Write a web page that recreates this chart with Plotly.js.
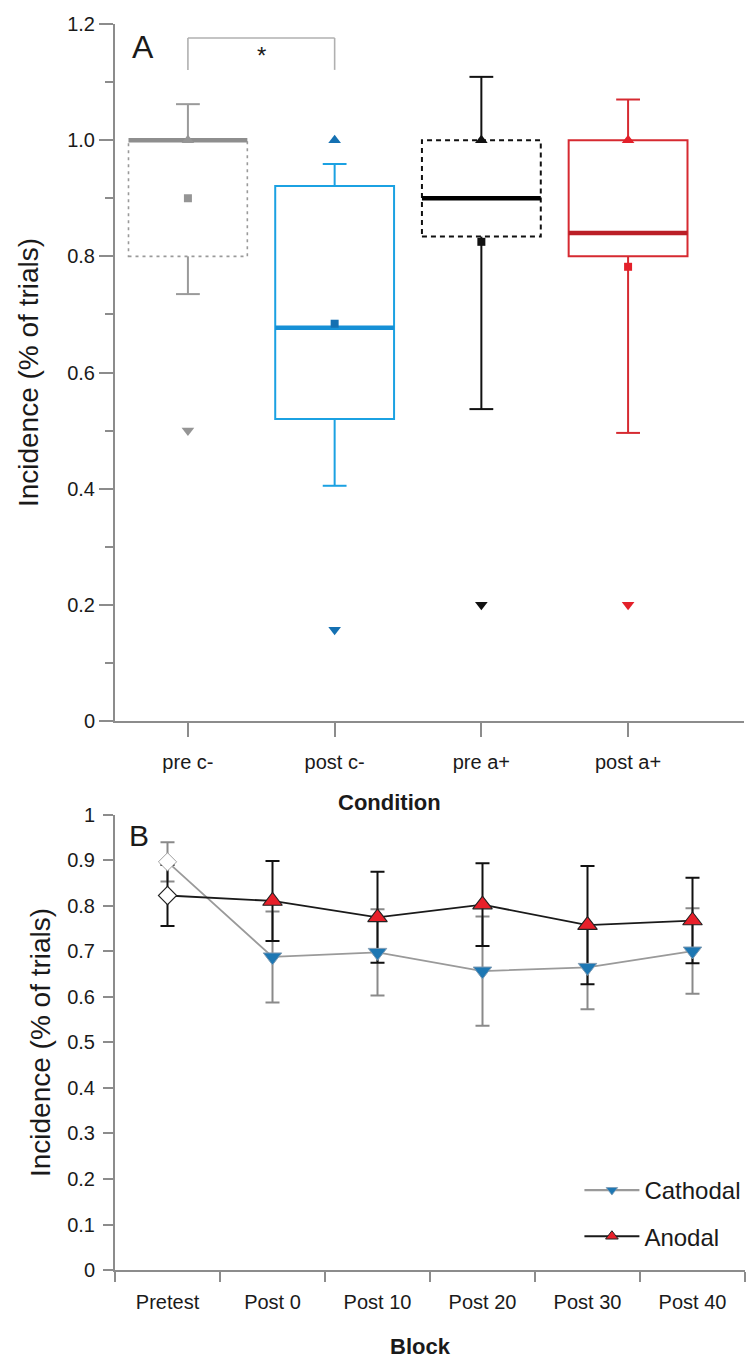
<!DOCTYPE html>
<html>
<head>
<meta charset="utf-8">
<script src="https://cdn.plot.ly/plotly-3.0.1.min.js"></script>
<style>html,body{margin:0;padding:0;background:#fff;}</style>
</head>
<body>
<div id="chart" style="width:752px;height:1359px;"></div>
<script>
// ---------- Panel A data ----------
const conditions = ['pre c-', 'post c-', 'pre a+', 'post a+'];
const q1Vals = [0.80, 0.52, 0.834, 0.80];
const medianVals = [1.00, 0.677, 0.90, 0.84];
const q3Vals = [1.00, 0.921, 1.00, 1.00];
const whiskerLow = [0.735, 0.405, 0.537, 0.496];
const whiskerHigh = [1.062, 0.959, 1.109, 1.070];
const meanVals = [0.90, 0.684, 0.825, 0.782];
const maxVals = [1.00, 1.00, 1.00, 1.00];
const minVals = [0.50, 0.157, 0.20, 0.20];
const yTickValsA = [0, 0.2, 0.4, 0.6, 0.8, 1.0, 1.2];
const yTickTextA = ['0', '0.2', '0.4', '0.6', '0.8', '1.0', '1.2'];
const sigPair = [0, 1];       // pre c- vs post c-
const sigLabel = '*';

// ---------- Panel B data ----------
const blocks = ['Pretest', 'Post 0', 'Post 10', 'Post 20', 'Post 30', 'Post 40'];
const cathodal = [0.897, 0.688, 0.698, 0.657, 0.665, 0.701];
const cathodalErr = [0.043, 0.100, 0.095, 0.120, 0.092, 0.094];
const anodal = [0.823, 0.811, 0.775, 0.803, 0.758, 0.768];
const anodalErr = [0.067, 0.088, 0.100, 0.091, 0.130, 0.094];

// ---------- styles ----------
const FONT = '"Liberation Sans", Arial, Helvetica, sans-serif';
const AXIS = '#8c8c8c';
const TXT = '#1a1a1a';
const condStyle = [
  {line: '#9a9a9a', median: '#8e8e8e', mark: '#959595', dash: '3px,4px', bw: 1.6},
  {line: '#1ba1e2', median: '#1690d6', mark: '#1470b2', dash: 'solid', bw: 2},
  {line: '#111111', median: '#000000', mark: '#111111', dash: '5px,4px', bw: 2},
  {line: '#d62a31', median: '#bb1f27', mark: '#e3202a', dash: 'solid', bw: 2}
];
const halfBox = 0.405;

const traces = [];
const shapes = [];

conditions.forEach((c, i) => {
  const s = condStyle[i];
  shapes.push({type: 'rect', xref: 'x', yref: 'y', layer: 'below',
    x0: i - halfBox, x1: i + halfBox, y0: q1Vals[i], y1: q3Vals[i],
    line: {color: s.line, width: s.bw, dash: s.dash}, fillcolor: 'rgba(0,0,0,0)'});
  shapes.push({type: 'line', xref: 'x', yref: 'y', layer: 'below',
    x0: i - halfBox, x1: i + halfBox, y0: medianVals[i], y1: medianVals[i],
    line: {color: s.median, width: 4.5}});
  traces.push({type: 'scatter', mode: 'lines', xaxis: 'x', yaxis: 'y',
    x: [c, c, null, c, c], y: [q3Vals[i], whiskerHigh[i], null, q1Vals[i], whiskerLow[i]],
    line: {color: s.line, width: 2}, showlegend: false, hoverinfo: 'skip'});
  traces.push({type: 'scatter', mode: 'markers', xaxis: 'x', yaxis: 'y',
    x: [c, c], y: [whiskerHigh[i], whiskerLow[i]],
    marker: {symbol: 'line-ew', size: 17, opacity: 1, color: s.line, line: {color: s.line, width: 2}},
    showlegend: false, hoverinfo: 'skip'});
  traces.push({type: 'scatter', mode: 'markers', xaxis: 'x', yaxis: 'y',
    x: [c, c, c], y: [meanVals[i], maxVals[i], minVals[i]],
    marker: {symbol: ['square', 'triangle-up', 'triangle-down'], size: [8, 11, 11], opacity: 1, color: s.mark, line: {width: 0}},
    showlegend: false, hoverinfo: 'skip'});
});

shapes.push({type: 'line', xref: 'x', yref: 'y', x0: sigPair[0], x1: sigPair[0], y0: 1.121, y1: 1.176, line: {color: '#b0b0b0', width: 1.6}});
shapes.push({type: 'line', xref: 'x', yref: 'y', x0: sigPair[0], x1: sigPair[1], y0: 1.176, y1: 1.176, line: {color: '#b0b0b0', width: 1.6}});
shapes.push({type: 'line', xref: 'x', yref: 'y', x0: sigPair[1], x1: sigPair[1], y0: 1.121, y1: 1.176, line: {color: '#b0b0b0', width: 1.6}});

// ---------- Panel B traces ----------
traces.push({type: 'scatter', mode: 'markers', xaxis: 'x2', yaxis: 'y2',
  x: blocks, y: cathodal, marker: {size: 1, color: 'rgba(0,0,0,0)'},
  error_y: {type: 'data', array: cathodalErr, visible: true, color: '#8a8a8a', thickness: 2, width: 7},
  showlegend: false, hoverinfo: 'skip'});
traces.push({type: 'scatter', mode: 'markers', xaxis: 'x2', yaxis: 'y2',
  x: blocks, y: anodal, marker: {size: 1, color: 'rgba(0,0,0,0)'},
  error_y: {type: 'data', array: anodalErr, visible: true, color: '#111111', thickness: 2, width: 7},
  showlegend: false, hoverinfo: 'skip'});

const catSym = blocks.map((b, i) => i === 0 ? 'diamond' : 'triangle-down');
const catCol = blocks.map((b, i) => i === 0 ? '#ffffff' : '#1d77b3');
const catLine = blocks.map((b, i) => i === 0 ? '#a0a0a0' : '#7f9bb3');
const catSize = blocks.map((b, i) => i === 0 ? 14 : 16);
const anoSym = blocks.map((b, i) => i === 0 ? 'diamond' : 'triangle-up');
const anoCol = blocks.map((b, i) => i === 0 ? '#ffffff' : '#e8202a');
const anoSize = blocks.map((b, i) => i === 0 ? 14 : 17);

traces.push({type: 'scatter', mode: 'lines+markers', name: 'Cathodal', legendgroup: 'cat', showlegend: false,
  xaxis: 'x2', yaxis: 'y2', x: blocks, y: cathodal,
  line: {color: '#9a9a9a', width: 1.8},
  marker: {symbol: catSym, size: catSize, opacity: 1, color: catCol, line: {color: catLine, width: 1}},
  hoverinfo: 'skip'});
traces.push({type: 'scatter', mode: 'lines+markers', name: 'Anodal', legendgroup: 'ano', showlegend: false,
  xaxis: 'x2', yaxis: 'y2', x: blocks, y: anodal,
  line: {color: '#1a1a1a', width: 1.8},
  marker: {symbol: anoSym, size: anoSize, opacity: 1, color: anoCol, line: {color: '#222222', width: 1.1}},
  hoverinfo: 'skip'});
// legend entries (no data of their own)
traces.push({type: 'scatter', mode: 'lines+markers', name: 'Cathodal', legendgroup: 'cat', showlegend: true,
  xaxis: 'x2', yaxis: 'y2', x: [null], y: [null],
  line: {color: '#9a9a9a', width: 2.2},
  marker: {symbol: 'triangle-down', size: 10, opacity: 1, color: '#1d77b3', line: {color: '#7f9bb3', width: 0.8}},
  hoverinfo: 'skip'});
traces.push({type: 'scatter', mode: 'lines+markers', name: 'Anodal', legendgroup: 'ano', showlegend: true,
  xaxis: 'x2', yaxis: 'y2', x: [null], y: [null],
  line: {color: '#1a1a1a', width: 2},
  marker: {symbol: 'triangle-up', size: 11, opacity: 1, color: '#e8202a', line: {color: '#222222', width: 1}},
  hoverinfo: 'skip'});

const tickFont = {family: FONT, size: 20, color: TXT};

const layout = {
  width: 752, height: 1359,
  margin: {l: 115, r: 6, t: 24, b: 89},
  paper_bgcolor: '#ffffff', plot_bgcolor: '#ffffff',
  font: {family: FONT, color: TXT},
  showlegend: true,
  legend: {x: 0.736, xanchor: 'left', y: 0.0819, yanchor: 'top',
    font: {family: FONT, size: 24, color: TXT}, bgcolor: 'rgba(0,0,0,0)',
    itemwidth: 55, traceorder: 'grouped', tracegroupgap: 12},
  xaxis: {domain: [0, 0.9984], anchor: 'y', type: 'category', categoryorder: 'array', categoryarray: conditions,
    range: [-0.497, 3.79], showgrid: false, zeroline: false,
    showline: true, linecolor: AXIS, linewidth: 2,
    ticks: 'outside', ticklen: 14, tickwidth: 2, tickcolor: AXIS,
    tickfont: tickFont, ticklabelstandoff: 8},
  yaxis: {domain: [0.4406, 1], anchor: 'x', range: [0, 1.2],
    tickmode: 'array', tickvals: yTickValsA, ticktext: yTickTextA,
    showgrid: false, zeroline: false,
    showline: true, linecolor: AXIS, linewidth: 2,
    ticks: 'outside', ticklen: 14, tickwidth: 2, tickcolor: AXIS,
    minor: {tickmode: 'linear', tick0: 0, dtick: 0.1, ticks: 'outside', ticklen: 8, tickwidth: 2, tickcolor: AXIS, showgrid: false},
    tickfont: tickFont,
    title: {text: 'Incidence (% of trials)', font: {family: FONT, size: 28, color: TXT}, standoff: 20}},
  xaxis2: {domain: [0, 1], anchor: 'y2', type: 'category', categoryorder: 'array', categoryarray: blocks,
    range: [-0.5, 5.5], showgrid: false, zeroline: false,
    showline: true, linecolor: AXIS, linewidth: 2,
    ticks: 'outside', tickson: 'boundaries', ticklen: 10, tickwidth: 2, tickcolor: AXIS,
    tickfont: tickFont, ticklabelstandoff: 13},
  yaxis2: {domain: [0, 0.3652], anchor: 'x2', range: [0, 1], tickmode: 'linear', tick0: 0, dtick: 0.1,
    showgrid: false, zeroline: false,
    showline: true, linecolor: AXIS, linewidth: 2,
    ticks: 'outside', ticklen: 10, tickwidth: 2, tickcolor: AXIS,
    tickfont: tickFont, ticklabelstandoff: 4,
    title: {text: 'Incidence (% of trials)', font: {family: FONT, size: 28, color: TXT}, standoff: 8}},
  shapes: shapes,
  annotations: [
    {text: 'A', xref: 'paper', yref: 'paper', x: 0.0444, y: 0.9815, xanchor: 'center', yanchor: 'middle', showarrow: false, font: {family: FONT, size: 32, color: TXT}},
    {text: 'B', xref: 'paper', yref: 'paper', x: 0.0380, y: 0.3491, xanchor: 'center', yanchor: 'middle', showarrow: false, font: {family: FONT, size: 30, color: TXT}},
    {text: sigLabel, xref: 'x', yref: 'y', x: 0.5, y: 1.145, xanchor: 'center', yanchor: 'middle', showarrow: false, font: {family: FONT, size: 24, color: TXT}},
    {text: '<b>Condition</b>', xref: 'paper', yref: 'paper', x: 0.4358, y: 0.3748, xanchor: 'center', yanchor: 'middle', showarrow: false, font: {family: FONT, size: 22, color: TXT}},
    {text: '<b>Block</b>', xref: 'paper', yref: 'paper', x: 0.4849, y: -0.0610, xanchor: 'center', yanchor: 'middle', showarrow: false, font: {family: FONT, size: 22, color: TXT}}
  ]
};

Plotly.newPlot('chart', traces, layout, {staticPlot: true, displayModeBar: false});
</script>
</body>
</html>
